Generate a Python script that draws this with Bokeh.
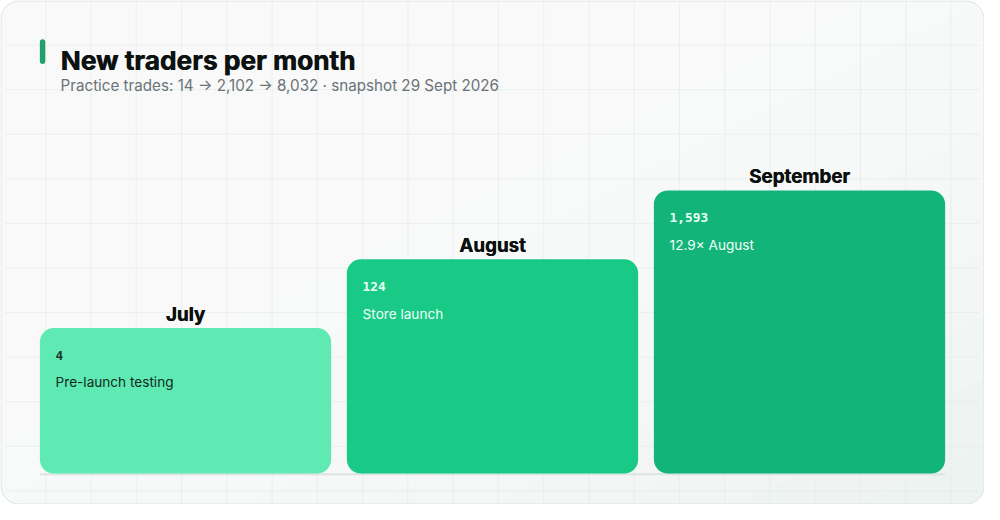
from bokeh.plotting import figure
from bokeh.models import Range1d, ColumnDataSource
from bokeh.core.properties import value
from bokeh.embed import file_html
from bokeh.resources import INLINE

# data
months = ["July", "August", "September"]
new_traders = [4, 124, 1593]
notes = ["Pre-launch testing", "Store launch", "12.9× August"]
practice_trades = [14, 2102, 8032]
snapshot = "29 Sept 2026"

fills = ["#5eeab2", "#19c986", "#13b47a"]
num_colors = ["#1d3b2e", "#e9fff5", "#e9fff5"]
note_colors = ["#13291f", "#f2fff9", "#f2fff9"]

W, H = 984, 504
FONT = "Inter"

# design space is 1000 x 520, y grows downwards
p = figure(width=W, height=H,
           x_range=Range1d(0, 1000), y_range=Range1d(520, 0),
           output_backend="svg", toolbar_location=None, min_border=0)
p.axis.visible = False
p.grid.visible = False
p.outline_line_color = None
p.background_fill_color = "white"
p.border_fill_color = "white"

# card with a soft diagonal wash (white layers fade toward bottom right)
p.quad(left=0.5, right=999.5, top=0.5, bottom=519.5,
       fill_color="#edf3f1", line_color=None, border_radius=18)
wash_x, wash_y = [], []
for i in range(1, 16):
    t = 2 * i / 16
    if t <= 1:
        wash_x.append([0, 1000 * t, 0])
        wash_y.append([0, 0, 520 * t])
    else:
        wash_x.append([0, 1000, 1000, 1000 * (t - 1), 0])
        wash_y.append([0, 0, 520 * (t - 1), 520, 520])
p.patches(xs=wash_x, ys=wash_y, fill_color="white", fill_alpha=0.14,
          line_color=None)

# faint background grid
gx = list(range(46, 1000, 46))
gy = list(range(46, 518, 46))
p.multi_line(xs=[[x, x] for x in gx], ys=[[1, 519] for _ in gx],
             line_color="#e3ecea", line_alpha=0.7, line_width=1)
p.multi_line(xs=[[5, 995] for _ in gy], ys=[[y, y] for y in gy],
             line_color="#e3ecea", line_alpha=0.7, line_width=1)

p.quad(left=0.5, right=999.5, top=0.5, bottom=519.5,
       fill_color=None, line_color="#d9e4e1", line_width=1,
       border_radius=18)

# title block
p.quad(left=[40], right=[45.5], top=[40], bottom=[65.5],
       fill_color="#22a06b", line_color=None, border_radius=3)
for dx in (0, 0.6):
    p.text(x=[61 + dx], y=[62], text=["New traders per month"],
           text_font=value(FONT), text_font_style="bold",
           text_font_size=value("26.3px"), text_color="#0c1210",
           text_baseline="alphabetic")
subtitle = ("Practice trades: " + " → ".join(f"{v:,}" for v in practice_trades)
            + f" · snapshot {snapshot}")
p.text(x=[61], y=[88], text=[subtitle],
       text_font=value(FONT), text_font_size=value("15.2px"),
       text_color="#6b7378", text_baseline="alphabetic")

# step blocks
n = len(months)
bar_w, gap, left0, base = 296, 16, 40, 488
lefts = [left0 + i * (bar_w + gap) for i in range(n)]
rights = [l + bar_w for l in lefts]
tops = [base - 150 - 71 * i for i in range(n)]

p.segment(x0=[40], x1=[960], y0=[488.8], y1=[488.8],
          line_color="#dbe4e1", line_width=2)

src = ColumnDataSource(dict(
    left=lefts, right=rights, top=tops, bottom=[base] * n,
    cx=[(l + r) / 2 for l, r in zip(lefts, rights)],
    tx=[l + 16 for l in lefts],
    label_y=[t - 14 for t in tops],
    num_y=[t + 28 for t in tops],
    note_y=[t + 56 for t in tops],
    month=months,
    num=[f"{v:,}" for v in new_traders],
    note=notes,
    fill=fills, num_color=num_colors, note_color=note_colors,
))

p.quad(left="left", right="right", top="top", bottom="bottom",
       fill_color="fill", line_color=None, border_radius=14, source=src)

for dx in (0, 0.4):
    p.text(x="cx", y="label_y", text="month", source=src, x_offset=dx,
           text_font=value(FONT), text_font_style="bold",
           text_font_size=value("18.8px"), text_color="#0b0f0e",
           text_align="center", text_baseline="alphabetic")
p.text(x="tx", y="num_y", text="num", source=src,
       text_font=value("DejaVu Sans Mono"), text_font_style="bold",
       text_font_size=value("12.8px"), text_color="num_color",
       text_baseline="alphabetic")
p.text(x="tx", y="note_y", text="note", source=src,
       text_font=value(FONT), text_font_size=value("13.6px"),
       text_color="note_color", text_baseline="alphabetic")

open("out.html", "w").write(file_html(p, INLINE))
